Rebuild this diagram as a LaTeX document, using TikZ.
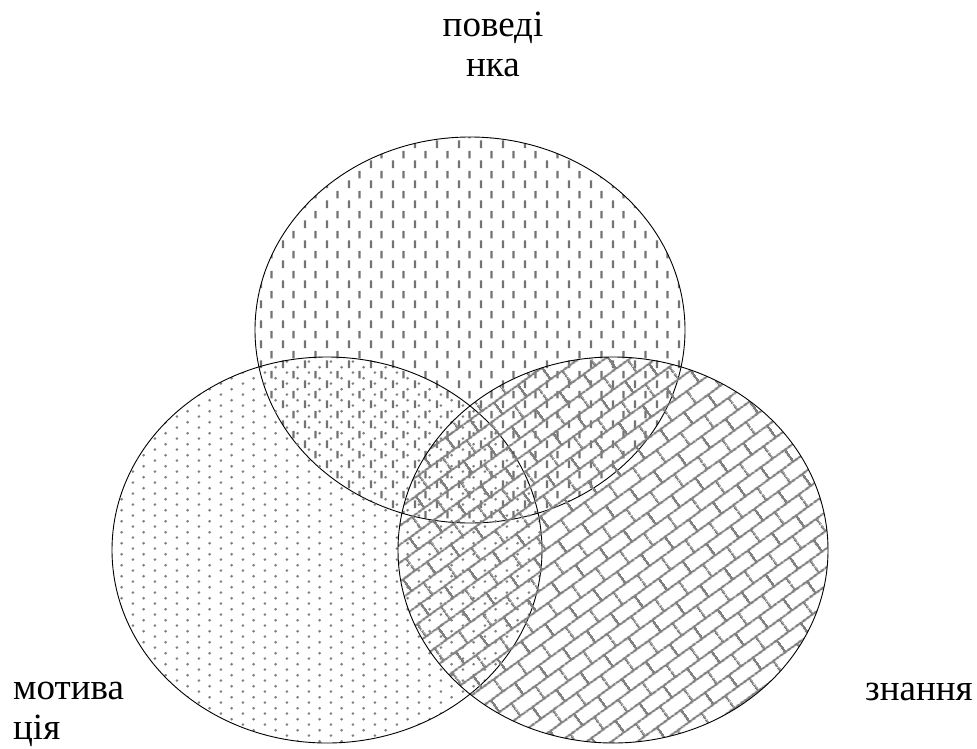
\documentclass[tikz,border=0pt]{standalone}
\usepackage{fontspec}
\setmainfont{Liberation Serif}
\usetikzlibrary{shapes.geometric,patterns.meta}

\pgfdeclarepattern{
  name=vdashes, type=uncolored,
  bottom left={\pgfpoint{0bp}{0bp}}, top right={\pgfpoint{21.5bp}{20bp}},
  tile size={\pgfpoint{21.5bp}{20bp}},
  code={
    \pgfsetlinewidth{2.2bp}
    \pgfpathmoveto{\pgfpoint{3bp}{1bp}}\pgfpathlineto{\pgfpoint{3bp}{9bp}}
    \pgfpathmoveto{\pgfpoint{13.75bp}{11bp}}\pgfpathlineto{\pgfpoint{13.75bp}{19bp}}
    \pgfusepath{stroke}
  }
}
\pgfdeclarepattern{
  name=sdots, type=uncolored,
  bottom left={\pgfpoint{0bp}{0bp}}, top right={\pgfpoint{21.6bp}{10.8bp}},
  tile size={\pgfpoint{21.6bp}{10.8bp}},
  code={
    \pgfpathcircle{\pgfpoint{3bp}{2.5bp}}{1.5bp}
    \pgfpathcircle{\pgfpoint{13.8bp}{7.9bp}}{1.5bp}
    \pgfusepath{fill}
  }
}
\pgfdeclarepattern{
  name=dbricks, type=uncolored,
  bottom left={\pgfpoint{0bp}{0bp}}, top right={\pgfpoint{30bp}{30bp}},
  tile size={\pgfpoint{30bp}{30bp}},
  tile transformation={\pgftransformrotate{36}},
  code={
    \pgfsetlinewidth{2.3bp}
    \pgfpathmoveto{\pgfpoint{0bp}{7.5bp}}\pgfpathlineto{\pgfpoint{30bp}{7.5bp}}
    \pgfpathmoveto{\pgfpoint{0bp}{22.5bp}}\pgfpathlineto{\pgfpoint{30bp}{22.5bp}}
    \pgfpathmoveto{\pgfpoint{7.5bp}{7.5bp}}\pgfpathlineto{\pgfpoint{7.5bp}{22.5bp}}
    \pgfpathmoveto{\pgfpoint{22.5bp}{22.5bp}}\pgfpathlineto{\pgfpoint{22.5bp}{30bp}}
    \pgfpathmoveto{\pgfpoint{22.5bp}{0bp}}\pgfpathlineto{\pgfpoint{22.5bp}{7.5bp}}
    \pgfusepath{stroke}
  }
}

\begin{document}
\begin{tikzpicture}[x=1bp,y=-1bp,
  vennset/.style={draw=black,line width=0.9bp,ellipse,minimum width=430bp,minimum height=386bp,inner sep=0pt},
  lbl/.style={font=\fontsize{37bp}{40bp}\selectfont,inner sep=0pt}]
\useasboundingbox (0,0) rectangle (977,749);
% three overlapping sets
\node[vennset,pattern=vdashes,pattern color=black!55] (povedinka) at (470,330) {};
\node[vennset,pattern=sdots,pattern color=black!50] (motyvatsiia) at (327,550) {};
\node[vennset,pattern=dbricks,pattern color=black!50] (znannia) at (613,550) {};
% labels
\node[lbl,align=center,anchor=base] (tpoved) at (493,77) {поведі\\нка};
\node[lbl,align=left,anchor=base west] (tmotyv) at (13,739) {мотива\\ція};
\node[lbl,anchor=base west] (tznan) at (865,700) {знання};
\end{tikzpicture}
\end{document}
